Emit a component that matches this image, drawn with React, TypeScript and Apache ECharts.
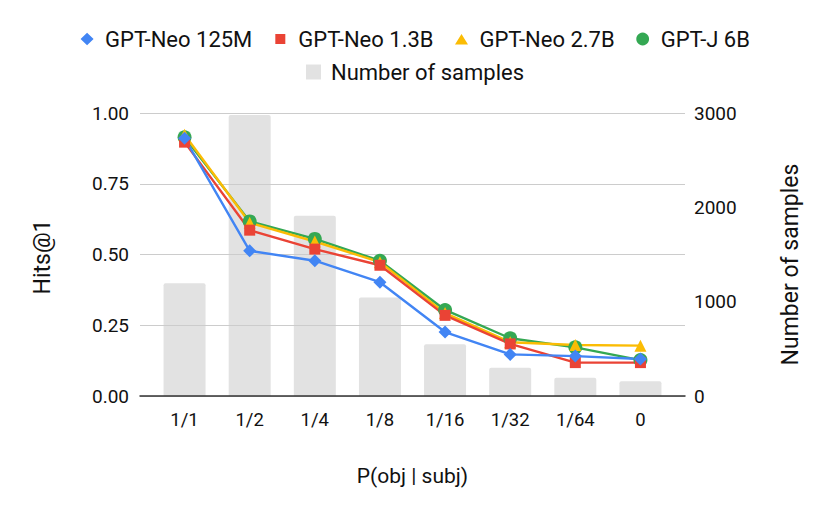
import React, { useEffect, useRef } from "react";
import * as echarts from "echarts";

const categories = ["1/1", "1/2", "1/4", "1/8", "1/16", "1/32", "1/64", "0"];
const gptNeo125M = [0.911, 0.513, 0.478, 0.402, 0.226, 0.147, 0.141, 0.131];
const gptNeo13B = [0.897, 0.586, 0.519, 0.462, 0.285, 0.184, 0.118, 0.118];
const gptNeo27B = [0.923, 0.612, 0.546, 0.473, 0.293, 0.19, 0.18, 0.178];
const gptJ6B = [0.914, 0.617, 0.555, 0.478, 0.304, 0.204, 0.172, 0.127];
const numSamples = [1196, 2980, 1910, 1043, 548, 300, 194, 156];
const leftTicks = { min: 0, max: 1, interval: 0.25 };
const rightTicks = { min: 0, max: 3000, interval: 1000 };

const FONT = "Roboto";
const TEXT = "#111111";

export default function App() {
  const ref = useRef<HTMLDivElement>(null);
  useEffect(() => {
    if (!ref.current) return;
    const chart = echarts.init(ref.current, null, { renderer: "svg" });
    const box = "M0,0L0.01,0M14,14L13.99,14";
    const icons = {
      diamond: "path://" + box + "M7,0.8L13.5,7L7,13.2L0.5,7Z",
      square: "path://" + box + "M2,2L12,2L12,12L2,12Z",
      triangle: "path://" + box + "M7,2L13.5,12.5L0.5,12.5Z",
      circle: "path://" + box + "M7,0.6A6.4,6.4,0,1,1,6.99,0.6Z",
    };
    const lineSeries = (name: string, data: number[], color: string, symbol: string, size: number) => ({
      name,
      type: "line",
      xAxisIndex: 1,
      yAxisIndex: 2,
      data,
      symbol,
      symbolSize: size,
      showSymbol: true,
      lineStyle: { color, width: 2.4 },
      itemStyle: { color, borderWidth: 0 },
      z: 3,
    });
    chart.setOption({
      animation: false,
      textStyle: { fontFamily: FONT, color: TEXT },
      legend: [
        {
          top: 23,
          left: "center",
          itemWidth: 14,
          itemHeight: 14,
          itemGap: 21,
          itemStyle: { borderWidth: 0 },
          textStyle: { fontFamily: FONT, fontSize: 22, color: TEXT, padding: [0, 0, 0, 6] },
          data: [
            { name: "GPT-Neo 125M", icon: icons.diamond },
            { name: "GPT-Neo 1.3B", icon: icons.square },
            { name: "GPT-Neo 2.7B", icon: icons.triangle },
            { name: "GPT-J 6B", icon: icons.circle },
          ],
        },
        {
          top: 56,
          left: "center",
          itemWidth: 15,
          itemHeight: 15,
          textStyle: { fontFamily: FONT, fontSize: 22, color: TEXT, padding: [0, 0, 0, 5] },
          data: [{ name: "Number of samples", icon: "rect" }],
        },
      ],
      grid: [
        { left: 140, right: 145, top: 113, bottom: 119 },
        { left: 152, right: 157, top: 113, bottom: 119 },
      ],
      xAxis: [
        {
          type: "value",
          gridIndex: 0,
          min: 0,
          max: 1,
          z: 1,
          axisLine: { show: true, onZero: false, lineStyle: { color: "#333333", width: 1.5 } },
          axisTick: { show: false },
          axisLabel: { show: false },
          splitLine: { show: false },
        },
        {
          type: "category",
          gridIndex: 1,
          data: categories,
          axisLine: { show: false },
          axisTick: { show: false },
          axisLabel: { margin: 14, fontSize: 18.5, color: TEXT, fontFamily: FONT },
          name: "P(obj | subj)",
          nameLocation: "middle",
          nameGap: 69,
          nameTextStyle: { fontSize: 21, color: TEXT, fontFamily: FONT },
        },
      ],
      yAxis: [
        {
          type: "value",
          gridIndex: 0,
          position: "left",
          ...leftTicks,
          z: 1,
          axisLine: { show: false },
          axisTick: { show: false },
          axisLabel: {
            margin: 11,
            fontSize: 19,
            color: TEXT,
            fontFamily: FONT,
            formatter: (v: number) => v.toFixed(2),
          },
          splitLine: { show: true, lineStyle: { color: "#cccccc", width: 1 } },
          name: "Hits@1",
          nameLocation: "middle",
          nameRotate: 90,
          nameGap: 86,
          nameTextStyle: { fontSize: 23, color: TEXT, fontFamily: FONT, padding: [0, 5, 0, 0] },
        },
        {
          type: "value",
          gridIndex: 0,
          position: "right",
          ...rightTicks,
          axisLine: { show: false },
          axisTick: { show: false },
          axisLabel: {
            margin: 9,
            fontSize: 19,
            color: TEXT,
            fontFamily: FONT,
            formatter: (v: number) => String(v),
          },
          splitLine: { show: false },
          name: "Number of samples",
          nameLocation: "middle",
          nameRotate: 90,
          nameGap: 94,
          nameTextStyle: { fontSize: 23, color: TEXT, fontFamily: FONT, padding: [0, 20, 0, 0] },
        },
        {
          type: "value",
          gridIndex: 1,
          ...leftTicks,
          show: false,
          splitLine: { show: false },
        },
        {
          type: "value",
          gridIndex: 1,
          ...rightTicks,
          show: false,
          splitLine: { show: false },
        },
      ],
      series: [
        {
          name: "Number of samples",
          type: "bar",
          xAxisIndex: 1,
          yAxisIndex: 3,
          data: numSamples,
          barWidth: 42,
          itemStyle: { color: "#e2e2e2", borderRadius: [2, 2, 0, 0] },
          z: 0,
        },
        lineSeries("GPT-J 6B", gptJ6B, "#34A853", "circle", 14),
        lineSeries("GPT-Neo 2.7B", gptNeo27B, "#FBBC04", "triangle", 12),
        lineSeries("GPT-Neo 1.3B", gptNeo13B, "#EA4335", "rect", 11),
        lineSeries("GPT-Neo 125M", gptNeo125M, "#4285F4", "diamond", 13),
      ],
    });
    return () => chart.dispose();
  }, []);
  return (
    <div
      ref={ref}
      style={{ position: "fixed", left: 0, top: 0, width: 830, height: 515, background: "#ffffff" }}
    />
  );
}
